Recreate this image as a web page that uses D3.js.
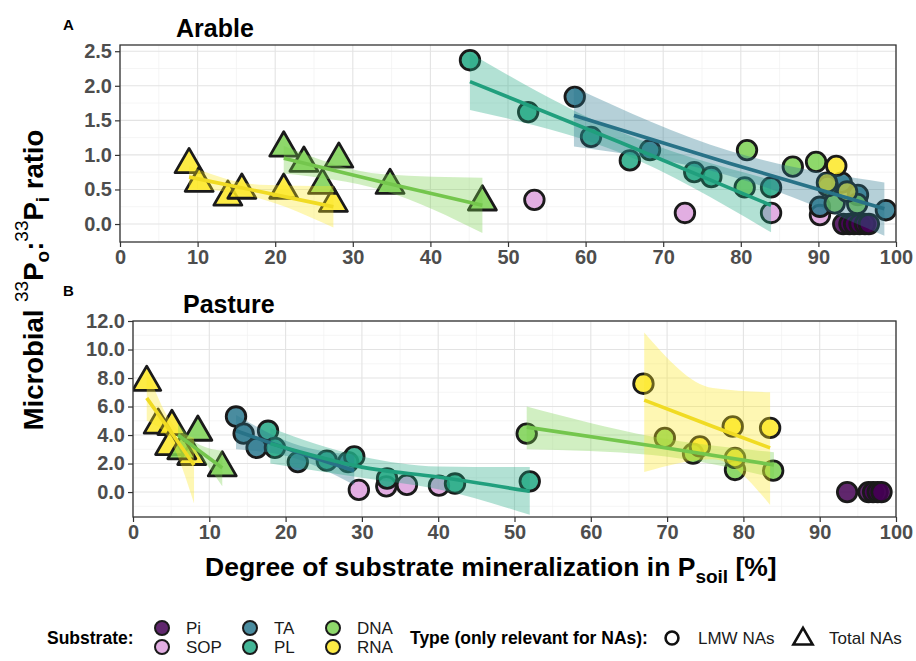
<!DOCTYPE html>
<html>
<head>
<meta charset="utf-8">
<script src="https://cdn.jsdelivr.net/npm/d3@7"></script>
<style>
  body { margin: 0; background: #fff; }
  text { font-family: "Liberation Sans", Arial, sans-serif; }
</style>
</head>
<body>
<div id="chart"></div>
<script>
const substrates = ['Pi', 'SOP', 'TA', 'PL', 'DNA', 'RNA'];
const substrateColors = ['#440154', '#DDA0DD', '#2A788E', '#22A884', '#7AD151', '#FDE725'];
const types = ['LMW NAs', 'Total NAs'];

const xTicks = [0, 10, 20, 30, 40, 50, 60, 70, 80, 90, 100];
const arableTicks = [0, 0.5, 1.0, 1.5, 2.0, 2.5];
const pastureTicks = [0, 2, 4, 6, 8, 10, 12];

// [degree of mineralization %, ratio, substrate, type]
const arablePoints = [
  [53.4, 0.35, 'SOP', 'LMW NAs'], [72.8, 0.16, 'SOP', 'LMW NAs'],
  [83.9, 0.16, 'SOP', 'LMW NAs'], [90.2, 0.13, 'SOP', 'LMW NAs'],
  [93.2, 0.0, 'Pi', 'LMW NAs'], [94.0, 0.0, 'Pi', 'LMW NAs'], [94.6, 0.0, 'Pi', 'LMW NAs'],
  [95.3, 0.0, 'Pi', 'LMW NAs'], [96.0, 0.0, 'Pi', 'LMW NAs'], [96.5, 0.0, 'Pi', 'LMW NAs'],
  [58.6, 1.84, 'TA', 'LMW NAs'], [68.3, 1.07, 'TA', 'LMW NAs'], [90.2, 0.25, 'TA', 'LMW NAs'],
  [93.0, 0.60, 'TA', 'LMW NAs'], [95.1, 0.42, 'TA', 'LMW NAs'], [98.7, 0.20, 'TA', 'LMW NAs'],
  [45.1, 2.37, 'PL', 'LMW NAs'], [52.6, 1.62, 'PL', 'LMW NAs'], [60.7, 1.26, 'PL', 'LMW NAs'],
  [65.7, 0.92, 'PL', 'LMW NAs'], [74.0, 0.75, 'PL', 'LMW NAs'], [76.2, 0.68, 'PL', 'LMW NAs'],
  [83.9, 0.53, 'PL', 'LMW NAs'],
  [80.5, 0.53, 'DNA', 'LMW NAs'], [80.8, 1.07, 'DNA', 'LMW NAs'], [86.7, 0.83, 'DNA', 'LMW NAs'],
  [89.7, 0.90, 'DNA', 'LMW NAs'], [92.1, 0.30, 'DNA', 'LMW NAs'], [95.0, 0.29, 'DNA', 'LMW NAs'],
  [91.2, 0.55, 'DNA', 'LMW NAs'],
  [92.3, 0.84, 'RNA', 'LMW NAs'], [93.7, 0.47, 'RNA', 'LMW NAs'], [91.1, 0.60, 'RNA', 'LMW NAs'],
  [8.9, 0.86, 'RNA', 'Total NAs'], [10.2, 0.59, 'RNA', 'Total NAs'], [13.9, 0.39, 'RNA', 'Total NAs'],
  [15.7, 0.49, 'RNA', 'Total NAs'], [21.1, 0.49, 'RNA', 'Total NAs'], [27.5, 0.30, 'RNA', 'Total NAs'],
  [21.1, 1.10, 'DNA', 'Total NAs'], [23.7, 0.88, 'DNA', 'Total NAs'], [28.2, 0.94, 'DNA', 'Total NAs'],
  [26.1, 0.56, 'DNA', 'Total NAs'], [34.8, 0.56, 'DNA', 'Total NAs'], [46.7, 0.32, 'DNA', 'Total NAs']
];

const pasturePoints = [
  [29.6, 0.15, 'SOP', 'LMW NAs'], [33.2, 0.40, 'SOP', 'LMW NAs'],
  [35.9, 0.50, 'SOP', 'LMW NAs'], [40.1, 0.45, 'SOP', 'LMW NAs'],
  [93.6, 0.0, 'Pi', 'LMW NAs'], [96.4, 0.0, 'Pi', 'LMW NAs'], [97.0, 0.0, 'Pi', 'LMW NAs'],
  [97.6, 0.0, 'Pi', 'LMW NAs'], [98.1, 0.0, 'Pi', 'LMW NAs'],
  [13.5, 5.3, 'TA', 'LMW NAs'], [14.5, 4.1, 'TA', 'LMW NAs'], [16.2, 3.1, 'TA', 'LMW NAs'],
  [21.6, 2.1, 'TA', 'LMW NAs'], [28.2, 2.1, 'TA', 'LMW NAs'],
  [17.7, 4.3, 'PL', 'LMW NAs'], [18.6, 3.1, 'PL', 'LMW NAs'], [25.4, 2.2, 'PL', 'LMW NAs'],
  [29.0, 2.5, 'PL', 'LMW NAs'], [33.3, 0.95, 'PL', 'LMW NAs'], [42.2, 0.6, 'PL', 'LMW NAs'],
  [52.0, 0.75, 'PL', 'LMW NAs'],
  [51.6, 4.1, 'DNA', 'LMW NAs'], [69.7, 3.8, 'DNA', 'LMW NAs'], [73.4, 2.7, 'DNA', 'LMW NAs'],
  [78.9, 1.55, 'DNA', 'LMW NAs'], [83.9, 1.5, 'DNA', 'LMW NAs'],
  [66.9, 7.6, 'RNA', 'LMW NAs'], [74.3, 3.2, 'RNA', 'LMW NAs'], [78.6, 4.6, 'RNA', 'LMW NAs'],
  [78.9, 2.4, 'RNA', 'LMW NAs'], [83.5, 4.5, 'RNA', 'LMW NAs'],
  [1.8, 7.7, 'RNA', 'Total NAs'], [3.3, 4.7, 'RNA', 'Total NAs'], [5.1, 4.6, 'RNA', 'Total NAs'],
  [4.8, 3.2, 'RNA', 'Total NAs'], [7.7, 2.5, 'RNA', 'Total NAs'],
  [6.4, 2.9, 'DNA', 'Total NAs'], [8.5, 4.2, 'DNA', 'Total NAs'], [11.7, 1.7, 'DNA', 'Total NAs']
];

// smoothers: [substrate, type, [[x, fit, lower, upper], ...]]
const arableFits = [
  ['RNA', 'Total NAs', [[8.9, 0.68, 0.52, 0.84], [18, 0.47, 0.37, 0.57], [27.5, 0.25, -0.05, 0.55]]],
  ['DNA', 'Total NAs', [[21.1, 0.95, 0.73, 1.13], [34, 0.60, 0.48, 0.72], [46.7, 0.27, -0.13, 0.67]]],
  ['PL', 'LMW NAs', [[45.1, 2.06, 1.65, 2.47], [64.5, 1.18, 1.03, 1.33], [83.9, 0.27, -0.12, 0.64]]],
  ['TA', 'LMW NAs', [[58.5, 1.57, 1.12, 1.98], [78.5, 0.88, 0.70, 1.06], [98.5, 0.22, -0.17, 0.60]]]
];

const pastureFits = [
  ['RNA', 'Total NAs', [[1.8, 6.6, 5.0, 8.6], [5, 4.2, 3.5, 4.9], [8.0, 1.9, -0.8, 3.8]]],
  ['DNA', 'Total NAs', [[5.9, 4.0, 3.2, 4.8], [8.8, 2.85, 2.4, 3.3], [11.7, 1.7, 0.4, 2.9]]],
  ['TA', 'LMW NAs', [[13.5, 4.3, 3.0, 5.4], [21, 2.9, 2.4, 3.4], [29, 1.5, 0.5, 2.6]]],
  ['PL', 'LMW NAs', [[18, 3.4, 2.0, 4.5], [30, 1.75, 1.0, 2.5], [40, 1.05, 0.2, 1.8], [52, 0.05, -1.6, 1.75]]],
  ['DNA', 'LMW NAs', [[51.6, 4.55, 3.0, 6.0], [68, 3.25, 2.6, 3.9], [84, 1.9, 1.0, 2.8]]],
  ['RNA', 'LMW NAs', [[67, 6.45, 1.4, 11.2], [76, 4.6, 2.3, 7.3], [83.5, 3.1, -0.9, 7.0]]]
];

const width = 916, height = 661;
const color = d3.scaleOrdinal().domain(substrates).range(substrateColors);

const svg = d3.select('#chart').append('svg')
  .attr('width', width).attr('height', height);

const circleSym = d3.symbol().type(d3.symbolCircle).size(300);
const triSym = d3.symbol().type(d3.symbolTriangle).size(340);

function drawPanel(cfg) {
  const x = d3.scaleLinear().domain([0, 100]).range([cfg.left, 896]);
  const y = d3.scaleLinear().domain(cfg.yDomain).range([cfg.bottom, cfg.top]);
  const g = svg.append('g');

  const clipId = 'clip-' + cfg.id;
  svg.append('clipPath').attr('id', clipId).append('rect')
    .attr('x', cfg.left).attr('y', cfg.top)
    .attr('width', 896 - cfg.left).attr('height', cfg.bottom - cfg.top);

  // minor + major grid
  const minorX = d3.range(5, 100, 10);
  g.selectAll('.mx').data(minorX).join('line')
    .attr('x1', d => x(d)).attr('x2', d => x(d))
    .attr('y1', cfg.top).attr('y2', cfg.bottom)
    .attr('stroke', '#f0f0f0').attr('stroke-width', 0.7);
  g.selectAll('.my').data(cfg.minorY).join('line')
    .attr('x1', cfg.left).attr('x2', 896)
    .attr('y1', d => y(d)).attr('y2', d => y(d))
    .attr('stroke', '#f0f0f0').attr('stroke-width', 0.7);
  g.selectAll('.gx').data(xTicks).join('line')
    .attr('x1', d => x(d)).attr('x2', d => x(d))
    .attr('y1', cfg.top).attr('y2', cfg.bottom)
    .attr('stroke', '#e3e3e3').attr('stroke-width', 1.1);
  g.selectAll('.gy').data(cfg.yTicks).join('line')
    .attr('x1', cfg.left).attr('x2', 896)
    .attr('y1', d => y(d)).attr('y2', d => y(d))
    .attr('stroke', '#e3e3e3').attr('stroke-width', 1.1);

  const plot = g.append('g').attr('clip-path', `url(#${clipId})`);

  // points
  plot.selectAll('.pt').data(cfg.points).join('path')
    .attr('transform', d => `translate(${x(d[0])},${y(d[1])})`)
    .attr('d', d => d[3] === 'Total NAs' ? triSym() : circleSym())
    .attr('fill', d => color(d[2]))
    .attr('fill-opacity', 0.85)
    .attr('stroke', '#1a1a1a')
    .attr('stroke-width', 2.8)
    .attr('stroke-linejoin', 'round');

  // confidence bands
  const area = d3.area().curve(d3.curveMonotoneX)
    .x(d => x(d[0])).y0(d => y(d[2])).y1(d => y(d[3]));
  plot.selectAll('.band').data(cfg.fits).join('path')
    .attr('d', d => area(d[2]))
    .attr('fill', d => color(d[0]))
    .attr('fill-opacity', 0.35);

  // fitted lines
  const line = d3.line().curve(d3.curveMonotoneX)
    .x(d => x(d[0])).y(d => y(d[1]));
  plot.selectAll('.fit').data(cfg.fits).join('path')
    .attr('d', d => line(d[2]))
    .attr('fill', 'none')
    .attr('stroke', d => d3.color(color(d[0])).darker(0.15))
    .attr('stroke-width', 3.6);

  // border
  g.append('rect')
    .attr('x', cfg.left).attr('y', cfg.top)
    .attr('width', 896 - cfg.left).attr('height', cfg.bottom - cfg.top)
    .attr('fill', 'none').attr('stroke', '#333').attr('stroke-width', 1.3);

  // axes
  const xAxis = g.append('g').attr('transform', `translate(0,${cfg.bottom})`)
    .call(d3.axisBottom(x).tickValues(xTicks).tickSize(5).tickPadding(3));
  const yAxis = g.append('g').attr('transform', `translate(${cfg.left},0)`)
    .call(d3.axisLeft(y).tickValues(cfg.yTicks).tickSize(5).tickPadding(3)
      .tickFormat(d3.format('.1f')));
  [xAxis, yAxis].forEach(a => {
    a.select('.domain').remove();
    a.selectAll('line').attr('stroke', '#333').attr('stroke-width', 1.2);
    a.selectAll('text')
      .attr('font-family', '"Liberation Sans", Arial, sans-serif')
      .attr('font-size', 20).attr('font-weight', 'bold').attr('fill', '#4d4d4d');
  });

  // panel title and tag
  svg.append('text').attr('x', cfg.tagX).attr('y', cfg.tagY)
    .attr('font-size', 15).attr('font-weight', 'bold').text(cfg.tag);
  svg.append('text').attr('x', cfg.titleX).attr('y', cfg.titleY)
    .attr('font-size', 25).attr('font-weight', 'bold').text(cfg.title);
}

drawPanel({
  id: 'arable', left: 120, top: 45, bottom: 242, yDomain: [-0.26, 2.59],
  yTicks: arableTicks, minorY: [0.25, 0.75, 1.25, 1.75, 2.25],
  points: arablePoints, fits: arableFits,
  tag: 'A', tagX: 63, tagY: 30, title: 'Arable', titleX: 176, titleY: 37
});

drawPanel({
  id: 'pasture', left: 133, top: 321, bottom: 517, yDomain: [-1.75, 12.0],
  yTicks: pastureTicks, minorY: [-1, 1, 3, 5, 7, 9, 11],
  points: pasturePoints, fits: pastureFits,
  tag: 'B', tagX: 63, tagY: 296, title: 'Pasture', titleX: 183, titleY: 313
});

// y axis title
const yTitle = svg.append('text')
  .attr('transform', 'translate(43,280) rotate(-90)')
  .attr('text-anchor', 'middle')
  .attr('font-size', 27.5).attr('font-weight', 'bold');
yTitle.append('tspan').text('Microbial  ');
yTitle.append('tspan').attr('font-size', 19).attr('font-weight', 'normal').attr('dy', -15).text('33');
yTitle.append('tspan').attr('dy', 15).text('P');
yTitle.append('tspan').attr('font-size', 19).attr('dy', 6).text('o');
yTitle.append('tspan').attr('dy', -6).text(':');
yTitle.append('tspan').attr('font-size', 19).attr('font-weight', 'normal').attr('dy', -15).text('33');
yTitle.append('tspan').attr('dy', 15).text('P');
yTitle.append('tspan').attr('font-size', 19).attr('dy', 6).text('i');
yTitle.append('tspan').attr('dy', -6).text(' ratio');

// x axis title
const xTitle = svg.append('text')
  .attr('x', 205).attr('y', 576)
  .attr('font-size', 26.5).attr('font-weight', 'bold');
xTitle.append('tspan').text('Degree of substrate mineralization in P');
xTitle.append('tspan').attr('font-size', 19).attr('dy', 7).text('soil');
xTitle.append('tspan').attr('dy', -7).text(' [%]');

// legend
const legend = svg.append('g');
legend.append('text').attr('x', 47).attr('y', 638).attr('dy', '0.35em')
  .attr('font-size', 17.5).attr('font-weight', 'bold').text('Substrate:');

const legendCols = [162, 250, 333];
const legendRows = [628, 647];
substrates.forEach((s, i) => {
  const cx = legendCols[Math.floor(i / 2)];
  const cy = legendRows[i % 2];
  legend.append('circle').attr('cx', cx).attr('cy', cy).attr('r', 7)
    .attr('fill', color(s)).attr('fill-opacity', 0.85)
    .attr('stroke', '#1a1a1a').attr('stroke-width', 2);
  legend.append('text').attr('x', cx + 24).attr('y', cy).attr('dy', '0.35em')
    .attr('font-size', 17).attr('fill', '#1a1a1a').text(s);
});

legend.append('text').attr('x', 410).attr('y', 638).attr('dy', '0.35em')
  .attr('font-size', 17.5).attr('font-weight', 'bold').text('Type (only relevant for NAs):');
const typeX = [672, 803];
types.forEach((t, i) => {
  legend.append('path')
    .attr('transform', `translate(${typeX[i]},${638 + (i ? 1 : 0)})`)
    .attr('d', i ? d3.symbol().type(d3.symbolTriangle).size(160)() : d3.symbol().type(d3.symbolCircle).size(130)())
    .attr('fill', 'none').attr('stroke', '#111').attr('stroke-width', 2.6);
  legend.append('text').attr('x', typeX[i] + 26).attr('y', 638).attr('dy', '0.35em')
    .attr('font-size', 17).attr('fill', '#1a1a1a').text(t);
});
</script>
</body>
</html>
